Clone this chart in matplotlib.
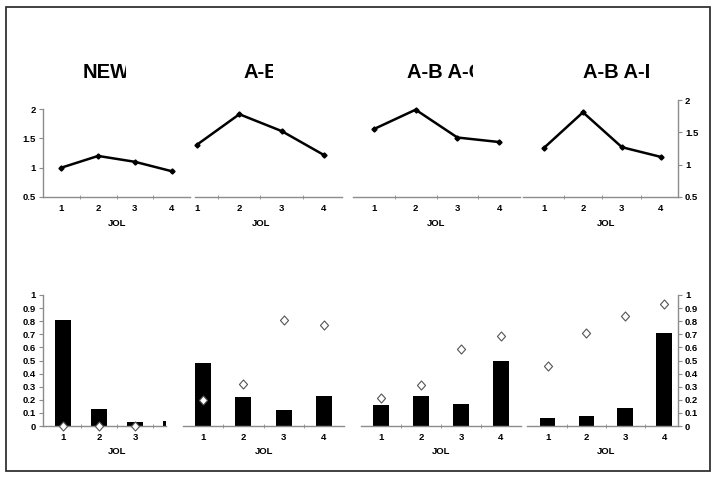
import matplotlib.pyplot as plt
from matplotlib.path import Path
from matplotlib.transforms import Bbox, TransformedBbox
from matplotlib.ticker import FixedLocator, FuncFormatter

# data
cats = [1, 2, 3, 4]
titles = ["NEW", "A-B", "A-B A-C", "A-B A-D"]

top_new = [1.00, 1.20, 1.10, 0.94]
top_ab = [1.31, 1.78, 1.52, 1.15]
top_abac = [1.55, 1.85, 1.42, 1.35]
top_abad = [1.26, 1.81, 1.27, 1.12]

bar_new = [0.81, 0.13, 0.03, 0.04]
bar_ab = [0.48, 0.22, 0.12, 0.23]
bar_abac = [0.16, 0.23, 0.17, 0.50]
bar_abad = [0.06, 0.08, 0.14, 0.71]

dia_new = [0.0, 0.0, 0.0]
dia_ab = [0.20, 0.32, 0.81, 0.77]
dia_abac = [0.21, 0.31, 0.59, 0.69]
dia_abad = [0.46, 0.71, 0.84, 0.93]

W, H = 718, 479
plt.rcParams['font.family'] = ['Liberation Sans', 'DejaVu Sans']
fig = plt.figure(figsize=(W / 100, H / 100), dpi=100)

AXC = '#8c8c8c'
TFS = 6.8


def px_axes(x0, x1, ytop, ybot):
    return fig.add_axes([x0 / W, 1 - ybot / H, (x1 - x0) / W, (ybot - ytop) / H])


def style(ax, left=False, right=False):
    for s in ['top', 'left', 'right']:
        ax.spines[s].set_visible(False)
    ax.spines['bottom'].set_color(AXC)
    ax.spines['bottom'].set_linewidth(1.0)
    ax.set_xticks(cats)
    ax.tick_params(axis='x', which='major', length=0, pad=5, labelsize=TFS)
    ax.xaxis.set_minor_locator(FixedLocator([1.5, 2.5, 3.5]))
    ax.tick_params(axis='x', which='minor', length=3, color=AXC, direction='inout')
    for lab in ax.get_xticklabels():
        lab.set_fontweight('bold')
    if left or right:
        side = 'left' if left else 'right'
        ax.spines[side].set_visible(True)
        ax.spines[side].set_color(AXC)
        ax.spines[side].set_linewidth(1.0)
        ax.yaxis.set_ticks_position(side)
        ax.tick_params(axis='y', length=3, color=AXC, labelsize=TFS, pad=2)
        for lab in ax.get_yticklabels():
            lab.set_fontweight('bold')
    else:
        ax.set_yticks([])
    ax.patch.set_visible(False)


# top row: line panels
top_data = [top_new, top_ab, top_abac, top_abad]
top_rects = [(43, 190, 109, 197), (195, 342, 100, 197), (353, 520, 100, 197), (523, 678, 100, 197)]
top_xlims = [(0.5, 4.5), (0.95, 4.43), (0.5, 4.5), (0.46, 4.44)]
for i, (vals, r, xl) in enumerate(zip(top_data, top_rects, top_xlims)):
    ax = px_axes(*r)
    ax.plot(cats, vals, color='black', lw=1.8, marker='D', ms=2.6, clip_on=False)
    ax.set_yticks([0.5, 1, 1.5, 2])
    ax.yaxis.set_major_formatter(FuncFormatter(lambda v, p: '%g' % v))
    style(ax, left=(i == 0), right=(i == 3))
    ax.set_xlim(*xl)
    ax.set_ylim(0.5, 2)

for x in [117, 261, 436, 606]:
    fig.text(x / W, 1 - 223 / H, 'JOL', ha='center', va='center', fontsize=TFS, fontweight='bold')

# bottom row: bars + diamonds
diamond = Path([(0, 1), (0.9, 0), (0, -1), (-0.9, 0), (0, 1)],
               [Path.MOVETO, Path.LINETO, Path.LINETO, Path.LINETO, Path.CLOSEPOLY])
bar_data = [bar_new, bar_ab, bar_abac, bar_abad]
dia_data = [dia_new, dia_ab, dia_abac, dia_abad]
bot_rects = [(43, 166, 295, 426), (183, 344, 295, 426), (361, 521, 295, 426), (527, 678, 295, 426)]
bot_xlims = [(0.44, 3.853), (0.5, 4.5), (0.5, 4.5), (0.467, 4.36)]
bar_w = [0.44, 0.4, 0.4, 0.4]
for i in range(4):
    ax = px_axes(*bot_rects[i])
    ax.bar(cats, bar_data[i], width=bar_w[i], color='black')
    dv = dia_data[i]
    ax.plot(cats[:len(dv)], dv, ls='none', marker=diamond, ms=6.5, mfc='white',
            mec='#555555', mew=0.8, clip_on=False, zorder=5)
    ax.set_yticks([k / 10 for k in range(11)])
    ax.yaxis.set_major_formatter(FuncFormatter(lambda v, p: '%g' % round(v, 1)))
    style(ax, left=(i == 0), right=(i == 3))
    ax.set_xlim(*bot_xlims[i])
    ax.set_ylim(0, 1)

for x in [117, 264, 441, 606]:
    fig.text(x / W, 1 - 452 / H, 'JOL', ha='center', va='center', fontsize=TFS, fontweight='bold')

# panel titles, cut off on the right like the scanned original
for t, x0, x1 in zip(titles, [83, 243, 407, 583], [126, 273, 473, 649]):
    txt = fig.text(x0 / W, 1 - 73 / H, t, ha='left', va='center', fontsize=14.5, fontweight='bold')
    cb = TransformedBbox(Bbox.from_extents(x0 / W - 0.01, 0, x1 / W, 1), fig.transFigure)
    txt.set_clip_box(cb)
    txt.set_clip_on(True)

# outer frame
fig.add_artist(plt.Rectangle((6 / W, 1 - 471 / H), 704 / W, 464 / H, transform=fig.transFigure,
                             fill=False, ec='#333333', lw=1.3))

fig.savefig('out.png', dpi=100)
